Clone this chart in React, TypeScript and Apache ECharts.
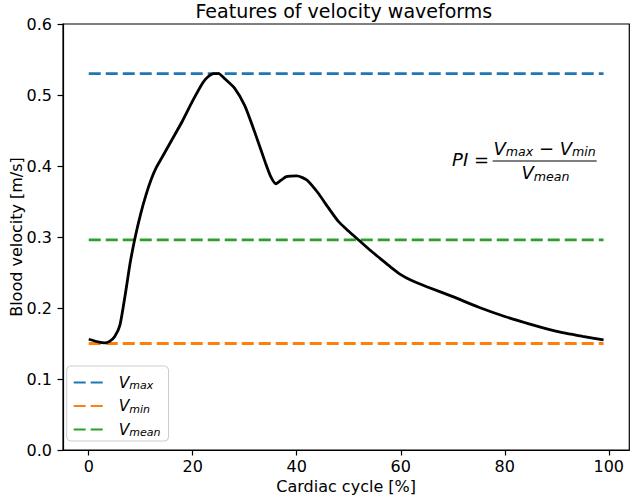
import React, { useEffect, useRef } from 'react';
import * as echarts from 'echarts';

// cardiac cycle position [%] and blood velocity [m/s]
const cyclePct = [0, 2, 3, 4, 5, 6, 7, 8, 9, 10, 11, 12, 13, 14, 16, 18, 20, 22, 23, 24, 25, 26, 28, 30, 32, 34, 35, 36, 37, 38, 40, 41, 42, 44, 46, 48, 50, 52, 54, 56, 58, 60, 62, 65, 70, 75, 80, 85, 90, 95, 99];
const velocity = [0.156, 0.152, 0.151, 0.153, 0.16, 0.176, 0.218, 0.265, 0.302, 0.333, 0.359, 0.381, 0.398, 0.411, 0.437, 0.463, 0.492, 0.518, 0.526, 0.53, 0.53, 0.524, 0.51, 0.485, 0.446, 0.404, 0.385, 0.375, 0.38, 0.385, 0.386, 0.384, 0.38, 0.363, 0.342, 0.322, 0.308, 0.295, 0.282, 0.27, 0.258, 0.247, 0.239, 0.23, 0.216, 0.201, 0.188, 0.177, 0.167, 0.16, 0.155];

// reference levels
const levelNames = ['Vmax', 'Vmin', 'Vmean'];
const levelSubs = ['max', 'min', 'mean'];
const levelValues = [0.53, 0.15, 0.296];
const levelColors = ['#1f77b4', '#ff7f0e', '#2ca02c'];
const levelSpan = [0, 99];

const xTicks = [0, 20, 40, 60, 80, 100];
const yTicks = [0, 0.1, 0.2, 0.3, 0.4, 0.5, 0.6];

const FONT = 'DejaVu Sans';

export default function App() {
  const ref = useRef<HTMLDivElement>(null);

  useEffect(() => {
    if (!ref.current) return;
    const chart = echarts.init(ref.current, null, { renderer: 'svg' });

    const levelSeries = levelNames.map((name, i) => ({
      name,
      type: 'line',
      symbol: 'none',
      z: 2,
      lineStyle: { color: levelColors[i], width: 2.8, type: [12, 5] },
      itemStyle: { color: levelColors[i] },
      data: levelSpan.map(x => [x, levelValues[i]]),
    }));

    const mathRich = {
      v: { fontFamily: FONT, fontStyle: 'italic', fontSize: 18, lineHeight: 22, color: '#000' },
      s: { fontFamily: FONT, fontStyle: 'italic', fontSize: 12.6, lineHeight: 22, padding: [7, 0, 0, 0], color: '#000' },
      o: { fontFamily: FONT, fontSize: 18, lineHeight: 22, color: '#000' },
    };

    const spine = { show: true, onZero: false, lineStyle: { color: '#000', width: 1.2 } };
    const tick = { show: true, length: 5.5, lineStyle: { color: '#000', width: 1.2 } };

    chart.setOption({
      animation: false,
      backgroundColor: '#fff',
      grid: {
        left: 58.3, top: 24, right: 2.7, bottom: 49,
        show: true, borderColor: '#000', borderWidth: 1.2,
      },
      xAxis: {
        type: 'value',
        min: -4.95,
        max: 103.95,
        name: 'Cardiac cycle [%]',
        nameLocation: 'middle',
        nameGap: 28,
        nameMoveOverlap: false,
        nameTextStyle: { fontFamily: FONT, fontSize: 16, color: '#000' },
        axisLine: spine,
        splitLine: { show: false },
        axisTick: { ...tick, customValues: xTicks },
        axisLabel: { customValues: xTicks, fontFamily: FONT, fontSize: 16, color: '#000', margin: 8 },
      },
      yAxis: {
        type: 'value',
        min: yTicks[0],
        max: yTicks[yTicks.length - 1],
        interval: 0.1,
        name: 'Blood velocity [m/s]',
        nameLocation: 'middle',
        nameGap: 39,
        nameMoveOverlap: false,
        nameTextStyle: { fontFamily: FONT, fontSize: 16, color: '#000' },
        axisLine: spine,
        splitLine: { show: false },
        axisTick: tick,
        axisLabel: {
          fontFamily: FONT, fontSize: 16, color: '#000', margin: 11,
          formatter: (v: number) => v.toFixed(1),
        },
      },
      legend: {
        data: levelNames,
        orient: 'vertical',
        left: 66.7,
        top: 366,
        padding: [8, 8, 3, 6],
        itemGap: 6.5,
        itemWidth: 32,
        itemHeight: 14,
        backgroundColor: 'rgba(255,255,255,0.8)',
        borderColor: '#cccccc',
        borderWidth: 1,
        borderRadius: 4,
        itemStyle: { opacity: 0, borderWidth: 0 },
        formatter: (name: string) => `{v|V}{s|${levelSubs[levelNames.indexOf(name)]}}`,
        textStyle: {
          rich: {
            v: { fontFamily: FONT, fontStyle: 'italic', fontSize: 15.5, lineHeight: 21, padding: [0, 0, 0, 8], color: '#000' },
            s: { fontFamily: FONT, fontStyle: 'italic', fontSize: 11, lineHeight: 21, padding: [6, 0, 0, 0], color: '#000' },
          },
        },
      },
      graphic: [
        {
          type: 'text', x: 343.8, y: 11,
          style: { text: 'Features of velocity waveforms', fontFamily: FONT, fontSize: 19, fill: '#000', textAlign: 'center', textVerticalAlign: 'middle' },
        },
        {
          type: 'text', x: 489, y: 159,
          style: { text: '{v|PI}{o| =}', rich: mathRich, textAlign: 'right', textVerticalAlign: 'middle' },
        },
        {
          type: 'line', shape: { x1: 492.7, y1: 161, x2: 596.7, y2: 161 },
          style: { stroke: '#000', lineWidth: 1.2 },
        },
        {
          type: 'text', x: 544.7, y: 148,
          style: { text: '{v|V}{s|max}{o| − }{v|V}{s|min}', rich: mathRich, textAlign: 'center', textVerticalAlign: 'middle' },
        },
        {
          type: 'text', x: 545.5, y: 172.5,
          style: { text: '{v|V}{s|mean}', rich: mathRich, textAlign: 'center', textVerticalAlign: 'middle' },
        },
      ],
      series: [
        ...levelSeries,
        {
          name: 'velocity',
          type: 'line',
          symbol: 'none',
          smooth: 0.2,
          z: 3,
          lineStyle: { color: '#000', width: 2.8 },
          data: cyclePct.map((x, i) => [x, velocity[i]]),
        },
      ],
    });

    return () => { chart.dispose(); };
  }, []);

  return (
    <div
      ref={ref}
      style={{ position: 'fixed', left: 0, top: 0, width: 632, height: 499 }}
    />
  );
}
